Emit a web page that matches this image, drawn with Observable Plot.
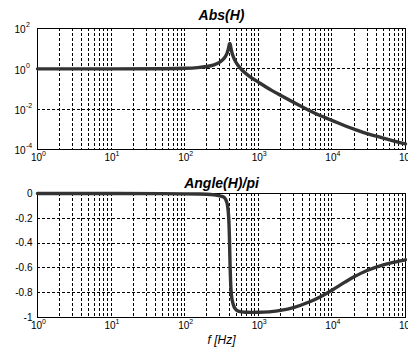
<!DOCTYPE html>
<html>
<head>
<meta charset="utf-8">
<script src="https://cdn.jsdelivr.net/npm/d3@7"></script>
<script src="https://cdn.jsdelivr.net/npm/@observablehq/plot@0.6"></script>
<style>
  html, body { margin: 0; padding: 0; background: #fff; }
  #chart { width: 408px; height: 352px; overflow: hidden; }
  #chart svg { display: block; }
</style>
</head>
<body>
<div id="chart"></div>
<script>
// Frequency response of a resonant low-pass stage (resonance near 410 Hz)
const freq = [1, 10, 50, 100, 150, 200, 250, 300, 340, 360, 370, 380, 390, 395, 400, 405, 410, 415, 420, 425, 430, 440, 450, 460, 480, 520, 600, 700, 800, 1000, 1500, 2000, 3000, 5000, 7000, 10000, 15000, 20000, 30000, 50000, 70000, 100000];
const magnitude = [1.0, 1.0, 1.015, 1.063, 1.155, 1.31, 1.59, 2.15, 3.2, 4.27, 5.19, 6.66, 9.2, 11.2, 13.8, 16.7, 18, 16.3, 13.3, 10.6, 8.6, 6.1, 4.7, 3.8, 2.66, 1.65, 0.88, 0.53, 0.37, 0.22, 0.088, 0.049, 0.022, 0.0083, 0.0047, 0.0028, 0.0015, 0.00102, 0.00062, 0.00037, 0.00026, 0.00019];
const phase = [0, 0, -0.001, -0.003, -0.004, -0.006, -0.011, -0.019, -0.029, -0.048, -0.065, -0.09, -0.141, -0.183, -0.248, -0.346, -0.49, -0.61, -0.704, -0.768, -0.809, -0.857, -0.88, -0.901, -0.925, -0.945, -0.955, -0.958, -0.959, -0.958, -0.953, -0.943, -0.92, -0.873, -0.832, -0.78, -0.715, -0.672, -0.621, -0.575, -0.554, -0.535];

// Axis ticks and labels
const decades = [1, 10, 100, 1000, 10000, 100000];
const decadeExponents = ["0", "1", "2", "3", "4", "5"];
const gridMultiples = [2, 3, 4, 5, 6, 7, 8, 9, 10];
const magTicks = [1e-4, 1e-2, 1, 1e2];
const magExponents = ["-4", "-2", "0", "2"];
const magGrid = [1e-2, 1];
const phaseTicks = [0, -0.2, -0.4, -0.6, -0.8, -1];
const phaseTickLabels = ["0", "-0.2", "-0.4", "-0.6", "-0.8", "-1"];
const phaseGrid = [-0.2, -0.4, -0.6, -0.8];
const titles = ["Abs(H)", "Angle(H)/pi"];
const xLabel = "f [Hz]";

const rows = freq.map((f, i) => ({f, mag: magnitude[i], ph: phase[i]}));
// vertical grid at every 2..10 multiple of each decade inside the frame
const gridX = decades.slice(0, -1).flatMap(d => gridMultiples.map(m => m * d)).filter(v => v < 1e5);

const font = "'Liberation Sans', Arial, Helvetica, sans-serif";
const gridStyle = {stroke: "#000", strokeWidth: 1, strokeDasharray: "3,2", shapeRendering: "crispEdges"};
const curveStyle = {stroke: "#333", strokeWidth: 3.4, strokeLinejoin: "round", strokeLinecap: "round", curve: "catmull-rom"};

function xTickLabels() {
  return [
    Plot.text(decades, {x: d => d, frameAnchor: "bottom", text: () => "10", dx: -1, dy: 11, fontSize: 10, textAnchor: "middle"}),
    Plot.text(decades, {x: d => d, frameAnchor: "bottom", text: (d, i) => decadeExponents[i], dx: 4.5, dy: 6, fontSize: 7, textAnchor: "start"})
  ];
}

function basePanel(marginTop, marginBottom) {
  return {
    width: 408,
    height: 176,
    marginLeft: 37,
    marginRight: 3,
    marginTop,
    marginBottom,
    x: {type: "log", domain: [1, 1e5], axis: null},
    style: {fontFamily: font, color: "#000", background: "#fff", overflow: "hidden"}
  };
}

const magPanel = Plot.plot({
  ...basePanel(28, 27),
  y: {type: "log", domain: [1e-4, 1e2], axis: null},
  marks: [
    Plot.ruleX(gridX, {x: d => d, ...gridStyle}),
    Plot.ruleY(magGrid, {y: d => d, ...gridStyle}),
    Plot.frame({stroke: "#000", shapeRendering: "crispEdges"}),
    Plot.line(rows, {x: "f", y: "mag", ...curveStyle}),
    ...xTickLabels(),
    Plot.text(magTicks, {y: d => d, frameAnchor: "left", text: () => "10", dx: -12, dy: 1.5, fontSize: 10, textAnchor: "end"}),
    Plot.text(magTicks, {y: d => d, frameAnchor: "left", text: (d, i) => magExponents[i], dx: -11.5, dy: -3.5, fontSize: 7, textAnchor: "start"}),
    Plot.text([titles[0]], {frameAnchor: "top", dy: -18, fontSize: 14, fontWeight: "bold", fontStyle: "italic"})
  ]
});

const phasePanel = Plot.plot({
  ...basePanel(17, 35),
  y: {domain: [-1, 0], axis: null},
  marks: [
    Plot.ruleX(gridX, {x: d => d, ...gridStyle}),
    Plot.ruleY(phaseGrid, {y: d => d, ...gridStyle}),
    Plot.frame({stroke: "#000", shapeRendering: "crispEdges"}),
    Plot.line(rows, {x: "f", y: "ph", ...curveStyle}),
    ...xTickLabels(),
    Plot.text(phaseTicks, {y: d => d, frameAnchor: "left", text: (d, i) => phaseTickLabels[i], dx: -5, fontSize: 10, textAnchor: "end"}),
    Plot.text([titles[1]], {frameAnchor: "top", dy: -15, fontSize: 14, fontWeight: "bold", fontStyle: "italic"}),
    Plot.text([xLabel], {frameAnchor: "bottom", dy: 26, fontSize: 12, fontStyle: "italic"})
  ]
});

const chart = document.getElementById("chart");
chart.appendChild(magPanel);
chart.appendChild(phasePanel);
</script>
</body>
</html>
